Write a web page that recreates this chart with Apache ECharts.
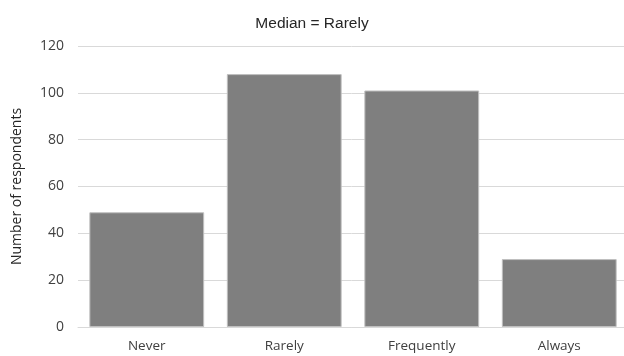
<!DOCTYPE html>
<html><head><meta charset="utf-8">
<script src="https://cdn.jsdelivr.net/npm/echarts@6/dist/echarts.min.js"></script>
<style>html,body{margin:0;padding:0;background:#fff}#c{width:624px;height:356px}</style>
</head><body><div id="c"></div>
<script>
const categories = ['Never', 'Rarely', 'Frequently', 'Always'];
const respondents = [49, 108, 101, 29];
const yTicks = [0, 20, 40, 60, 80, 100, 120];
const titleText = 'Median = Rarely';
const yAxisTitle = 'Number of respondents';

const chart = echarts.init(document.getElementById('c'), null, {renderer: 'canvas'});
chart.setOption({
  animation: false,
  backgroundColor: '#fff',
  title: {
    text: titleText, left: 'center', top: 11,
    textStyle: {fontFamily: 'Liberation Sans, Arial', fontSize: 15.5, fontWeight: 'normal', color: '#262626'}
  },
  grid: {left: 78, width: 550, top: 46, bottom: 29, outerBoundsMode: 'none', containLabel: false},
  xAxis: {
    type: 'category', data: categories,
    axisLine: {show: true, lineStyle: {color: '#d9d9d9', width: 1}},
    axisTick: {show: false},
    axisLabel: {fontFamily: 'Open Sans', fontSize: 13.5, color: '#404040', margin: 12}
  },
  yAxis: {
    type: 'value', min: yTicks[0], max: yTicks[yTicks.length - 1], interval: 20,
    name: yAxisTitle, nameLocation: 'middle', nameGap: 54, nameRotate: 90,
    nameTextStyle: {fontFamily: 'Open Sans', fontSize: 14, color: '#262626'},
    axisLine: {show: false}, axisTick: {show: false},
    axisLabel: {fontFamily: 'Open Sans', fontSize: 14, color: '#404040', margin: 14},
    splitLine: {lineStyle: {color: '#d9d9d9', width: 1}}
  },
  series: [{
    type: 'bar', data: respondents, barCategoryGap: '16.5%',
    itemStyle: {color: '#7f7f7f', borderColor: '#bfbfbf', borderWidth: 1}
  }]
});
</script></body></html>
